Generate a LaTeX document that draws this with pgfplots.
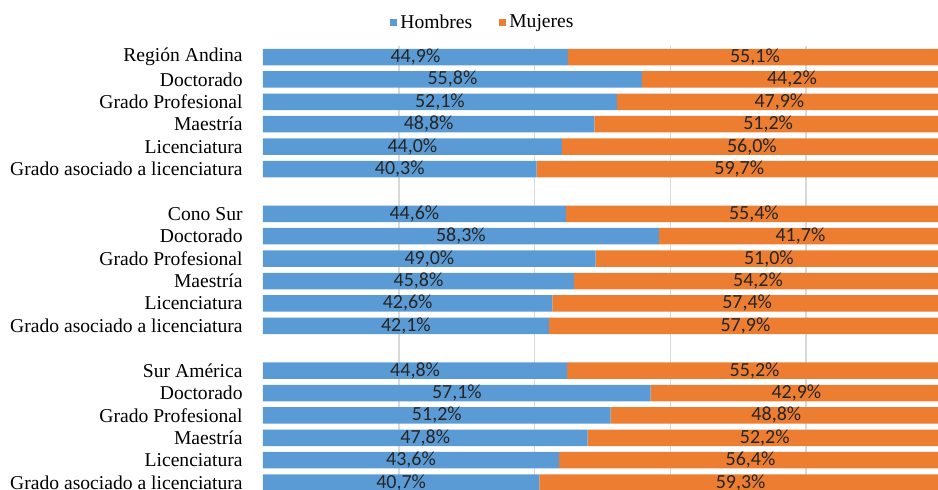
\documentclass[border=0pt]{standalone}
\usepackage{pgfplots}
\pgfplotsset{compat=1.18}
\usepackage{pgfplotstable}
\usepackage{fontspec}
\setmainfont{Liberation Serif}
\newfontfamily\labfont{Carlito}
\definecolor{hblue}{HTML}{5B9BD5}
\definecolor{morange}{HTML}{ED7D31}
\pgfplotstableread{
row h m
0 44.9 55.1
1 55.8 44.2
2 52.1 47.9
3 48.8 51.2
4 44.0 56.0
5 40.3 59.7
7 44.6 55.4
8 58.3 41.7
9 49.0 51.0
10 45.8 54.2
11 42.6 57.4
12 42.1 57.9
14 44.8 55.2
15 57.1 42.9
16 51.2 48.8
17 47.8 52.2
18 43.6 56.4
19 40.7 59.3
}\data
\pgfplotsset{base/.style={
  at={(0,0)}, anchor=south west,
  scale only axis, width=339.5pt, height=224pt,
  xmin=0, xmax=100, ymin=-0.5, ymax=19.5,
  y dir=reverse,
  major tick length=0pt,
  axis line style={draw=none},
}}
\begin{document}
\begin{tikzpicture}
\useasboundingbox (-131.5pt,2.4pt) rectangle (337.5pt,246.9pt);
\clip (-131.5pt,2.4pt) rectangle (337.5pt,246.9pt);
\begin{axis}[
  base,
  xbar stacked, bar width=8.25pt,
  ytick={0,1,2,3,4,5,7,8,9,10,11,12,14,15,16,17,18,19},
  yticklabels={Región Andina,Doctorado,Grado Profesional,Maestría,Licenciatura,Grado asociado a licenciatura,
               Cono Sur,Doctorado,Grado Profesional,Maestría,Licenciatura,Grado asociado a licenciatura,
               Sur América,Doctorado,Grado Profesional,Maestría,Licenciatura,Grado asociado a licenciatura},
  xtick={20,40,60,80}, xticklabels={},
  xmajorgrids, grid style={black!15, line width=0.8pt},
  tick label style={font=\fontsize{9.8}{11}\selectfont},
  yticklabel style={inner sep=0pt, xshift=-10pt},
  legend columns=2,
  legend style={at={(0.3247,1.051)}, anchor=center, draw=none, fill=none,
    font=\fontsize{9.8}{11}\selectfont, inner sep=0pt,
    nodes={inner xsep=1.5pt, inner ysep=0pt},
    /tikz/every even column/.append style={column sep=12pt}},
  legend image code/.code={\fill[#1] (0pt,-1.75pt) rectangle (3.5pt,1.75pt);},
]
\addplot[fill=hblue, draw=none] table[x=h, y=row]{\data};
\addplot[fill=morange, draw=none] table[x=m, y=row]{\data};
\legend{Hombres, Mujeres}
\end{axis}
\begin{axis}[
  base,
  ytick=\empty, xtick=\empty,
  clip=false,
  point meta=explicit,
  nodes near coords={\pgfmathprintnumber[fixed,fixed zerofill,precision=1,use comma,assume math mode=true]{\pgfplotspointmeta}\%},
  nodes near coords style={font=\labfont\fontsize{10}{11}\selectfont, text=black!85, anchor=center, inner sep=0pt},
]
\addplot[draw=none, mark=none] table[x expr=\thisrow{h}/2, y=row, meta=h]{\data};
\addplot[draw=none, mark=none] table[x expr=\thisrow{h}+\thisrow{m}/2, y=row, meta=m]{\data};
\end{axis}
\end{tikzpicture}
\end{document}
